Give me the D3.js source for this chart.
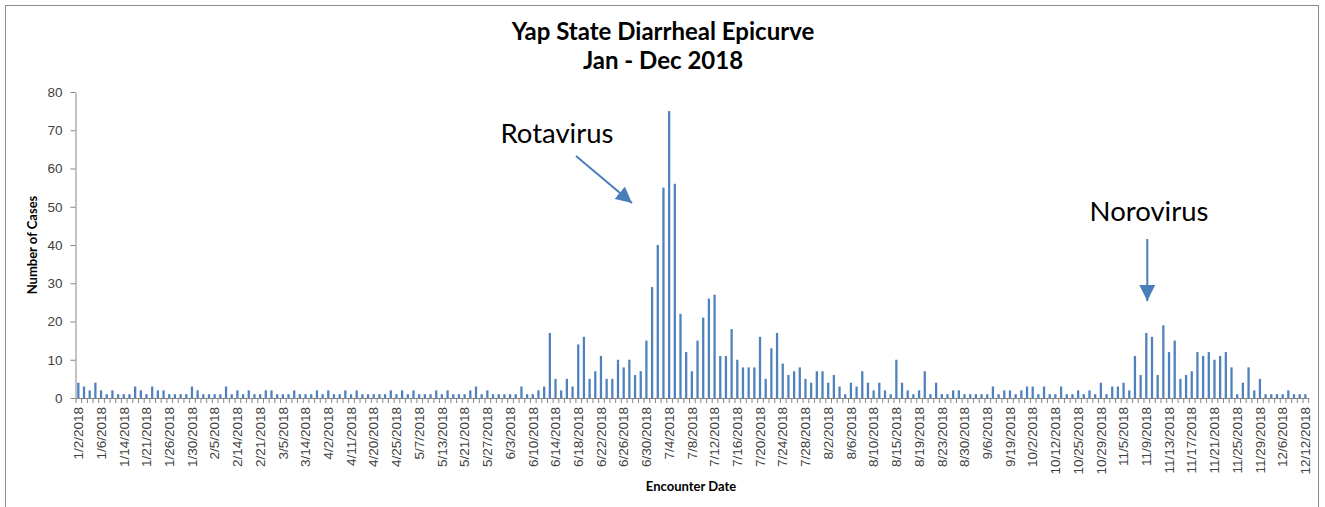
<!DOCTYPE html>
<html>
<head>
<meta charset="utf-8">
<script src="https://cdn.jsdelivr.net/npm/d3@7"></script>
<style>
  body { margin: 0; background: #fff; }
  svg { display: block; font-family: Lato, "Open Sans", sans-serif; }
  .axis path, .axis line { stroke: #868686; }
  .axis text { fill: #404040; }
</style>
</head>
<body>
<svg id="chart"></svg>
<script>
// one value per encounter date
var cases = [
  4,3,2,4,2,1,2,1,1,1, 3,2,1,3,2,2,1,1,1,1, 3,2,1,1,1,1,3,1,2,1,
  2,1,1,2,2,1,1,1,2,1, 1,1,2,1,2,1,1,2,1,2, 1,1,1,1,1,2,1,2,1,2,
  1,1,1,2,1,2,1,1,1,2, 3,1,2,1,1,1,1,1,3,1, 1,2,3,17,5,2,5,3,14,16,
  5,7,11,5,5,10,8,10,6,7, 15,29,40,55,75,56,22,12,7,15, 21,26,27,11,11,18,10,8,8,8,
  16,5,13,17,9,6,7,8,5,4, 7,7,4,6,3,1,4,3,7,4, 2,4,2,1,10,4,2,1,2,7,
  1,4,1,1,2,2,1,1,1,1, 1,3,1,2,2,1,2,3,3,1, 3,1,1,3,1,1,2,1,2,1,
  4,1,3,3,4,2,11,6,17,16, 6,19,12,15,5,6,7,12,11,12, 10,11,12,8,1,4,8,2,5,1,
  1,1,1,2,1,1,1
];

// every 4th date carries a label
var tickLabels = [
  '1/2/2018','1/6/2018','1/14/2018','1/21/2018','1/26/2018','1/30/2018','2/5/2018',
  '2/14/2018','2/21/2018','3/5/2018','3/14/2018','4/2/2018','4/11/2018','4/20/2018',
  '4/25/2018','5/7/2018','5/13/2018','5/21/2018','5/27/2018','6/3/2018','6/10/2018',
  '6/14/2018','6/18/2018','6/22/2018','6/26/2018','6/30/2018','7/4/2018','7/8/2018',
  '7/12/2018','7/16/2018','7/20/2018','7/24/2018','7/28/2018','8/2/2018','8/6/2018',
  '8/10/2018','8/15/2018','8/19/2018','8/23/2018','8/30/2018','9/6/2018','9/19/2018',
  '10/2/2018','10/12/2018','10/25/2018','10/29/2018','11/5/2018','11/9/2018','11/13/2018',
  '11/17/2018','11/21/2018','11/25/2018','11/29/2018','12/6/2018','12/12/2018'
];
var labelEvery = 4;
var yTicks = [0,10,20,30,40,50,60,70,80];

// outbreak call-outs: text, bar the arrow points at
var callouts = [
  {text: 'Rotavirus', bar: 104},
  {text: 'Norovirus', bar: 188}
];

var width = 1325, height = 507;
var plotLeft = 75.5, plotRight = 1308.2, plotTop = 92, plotBottom = 398;

var svg = d3.select('#chart')
  .attr('width', width)
  .attr('height', height);

svg.append('rect')
  .attr('x', 5.5).attr('y', 5.5)
  .attr('width', 1313).attr('height', 520)
  .attr('fill', '#fff')
  .attr('stroke', '#8c8c8c');

var x = d3.scaleBand()
  .domain(d3.range(cases.length))
  .range([plotLeft, plotRight])
  .paddingInner(0.6)
  .paddingOuter(0.3);

var y = d3.scaleLinear()
  .domain([0, 80])
  .range([plotBottom, plotTop]);

// boundaries between categories, for the small tick marks
var xb = d3.scaleLinear()
  .domain([0, cases.length])
  .range([plotLeft, plotRight]);

svg.append('g')
  .attr('fill', '#4f81bd')
  .selectAll('rect')
  .data(cases)
  .enter().append('rect')
  .attr('x', (d, i) => x(i))
  .attr('width', x.bandwidth())
  .attr('y', d => y(d))
  .attr('height', d => y(0) - y(d));

var yAxis = svg.append('g')
  .attr('class', 'axis')
  .attr('transform', 'translate(' + plotLeft + ',0)')
  .call(d3.axisLeft(y).tickValues(yTicks).tickSize(5).tickSizeOuter(0).tickPadding(8));
yAxis.selectAll('text').style('font-size', '13.5px');

svg.append('g')
  .attr('class', 'axis')
  .attr('transform', 'translate(0,' + plotBottom + ')')
  .call(d3.axisBottom(xb).tickValues(d3.range(cases.length + 1)).tickFormat('').tickSize(5).tickSizeOuter(0));

var xAxis = svg.append('g')
  .attr('class', 'axis')
  .attr('transform', 'translate(0,' + plotBottom + ')')
  .call(d3.axisBottom(x)
    .tickValues(d3.range(0, cases.length, labelEvery))
    .tickFormat(i => tickLabels[i / labelEvery])
    .tickSize(0));
xAxis.select('.domain').remove();
xAxis.selectAll('text')
  .style('font-size', '13.5px')
  .attr('text-anchor', 'end')
  .attr('transform', 'rotate(-90)')
  .attr('x', -9)
  .attr('y', 0)
  .attr('dy', '0.35em');

// titles
svg.append('text')
  .attr('x', 663).attr('y', 40)
  .attr('text-anchor', 'middle')
  .style('font-size', '24px').style('font-weight', 'bold')
  .text('Yap State Diarrheal Epicurve');
svg.append('text')
  .attr('x', 663).attr('y', 69)
  .attr('text-anchor', 'middle')
  .style('font-size', '24px').style('font-weight', 'bold')
  .text('Jan - Dec 2018');

svg.append('text')
  .attr('transform', 'translate(37,245) rotate(-90)')
  .attr('text-anchor', 'middle')
  .style('font-size', '13px').style('font-weight', 'bold')
  .text('Number of Cases');

svg.append('text')
  .attr('x', 691).attr('y', 491)
  .attr('text-anchor', 'middle')
  .style('font-size', '13px').style('font-weight', 'bold')
  .text('Encounter Date');

// call-outs with arrows
var arrowColor = '#4a7ebb';
svg.append('defs').append('marker')
  .attr('id', 'head')
  .attr('viewBox', '0 0 10 10')
  .attr('refX', 10).attr('refY', 5)
  .attr('markerUnits', 'userSpaceOnUse')
  .attr('markerWidth', 16).attr('markerHeight', 16)
  .attr('orient', 'auto')
  .append('path')
  .attr('d', 'M0,0 L10,5 L0,10 Z')
  .attr('fill', arrowColor);

var rot = callouts[0], noro = callouts[1];
svg.append('text')
  .attr('x', 557).attr('y', 143)
  .attr('text-anchor', 'middle')
  .style('font-size', '27.5px')
  .attr('fill', '#000')
  .text(rot.text);
svg.append('line')
  .attr('x1', 576).attr('y1', 156)
  .attr('x2', x(rot.bar) - 36).attr('y2', 203)
  .attr('stroke', arrowColor).attr('stroke-width', 2)
  .attr('marker-end', 'url(#head)');

svg.append('text')
  .attr('x', 1149).attr('y', 221)
  .attr('text-anchor', 'middle')
  .style('font-size', '27.5px')
  .attr('fill', '#000')
  .text(noro.text);
svg.append('line')
  .attr('x1', x(noro.bar) + x.bandwidth() / 2 + 1).attr('y1', 239)
  .attr('x2', x(noro.bar) + x.bandwidth() / 2 + 1).attr('y2', 301)
  .attr('stroke', arrowColor).attr('stroke-width', 2)
  .attr('marker-end', 'url(#head)');
</script>
</body>
</html>
